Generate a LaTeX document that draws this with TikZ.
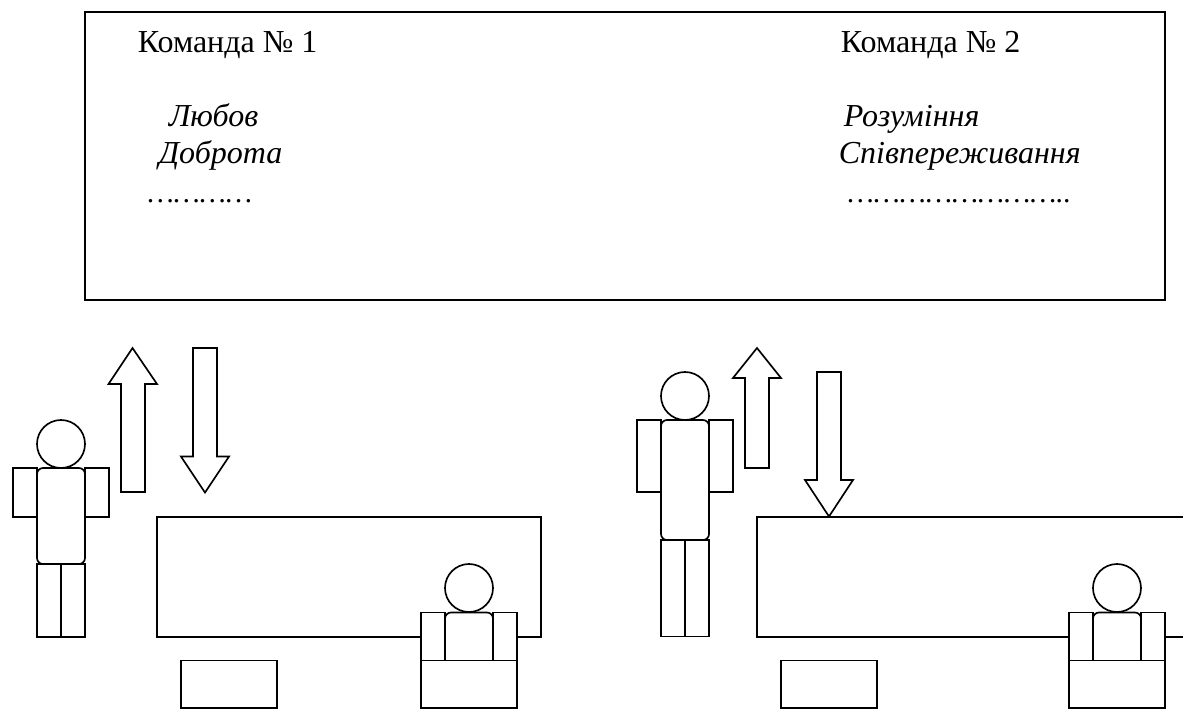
\documentclass[tikz,border=0pt]{standalone}
\usepackage{fontspec}
\setmainfont{Liberation Serif}
\begin{document}
\begin{tikzpicture}[x=0.75pt,y=-0.75pt,line width=1.25pt,line join=miter,
  txt/.style={anchor=base west,inner sep=0pt,font=\fontsize{24pt}{28pt}\selectfont},
  itxt/.style={txt,font=\fontsize{24pt}{28pt}\selectfont\itshape},
  dots/.style={txt,font=\fontsize{22pt}{26pt}\selectfont\itshape},
  part/.style={draw=black,fill=white},
  softpart/.style={part,rounded corners=4.5pt}]
\useasboundingbox (0,0) rectangle (1183,708);
\clip (0,0) rectangle (1183,708);
\fill[white] (0,0) rectangle (1183,708);
% board
\draw[line width=1.5pt] (85,12) rectangle (1165,300);
\node[txt] (t1) at (137,52) {Команда № 1};
\node[itxt] (a1) at (168,126) {Любов};
\node[itxt] (b1) at (158,163) {Доброта};
\node[dots] (d1) at (147,202) {…………};
\node[txt] (t2) at (840,52) {Команда № 2};
\node[itxt] (a2) at (843,126) {Розуміння};
\node[itxt] (b2) at (838,163) {Співпереживання};
\node[dots] (d2) at (847,202) {……………………..};
% arrows, left pair
\draw[part] (132.5,348) -- (157,384) -- (145,384) -- (145,492) -- (121,492) -- (121,384) -- (108.5,384) -- cycle;
\draw[part] (193,348) -- (217,348) -- (217,456.5) -- (229,456.5) -- (205,492.5) -- (181,456.5) -- (193,456.5) -- cycle;
% arrows, right pair
\draw[part] (757,348) -- (781,378) -- (769,378) -- (769,468) -- (745,468) -- (745,378) -- (733,378) -- cycle;
\draw[part] (817,372) -- (841,372) -- (841,480) -- (853,480) -- (829,516.5) -- (805,480) -- (817,480) -- cycle;
% tables
\draw[part] (157,517) rectangle (541,637);
\draw[part] (757,517) rectangle (1200,637);
% stools
\draw[part] (181,660.5) rectangle (277,708);
\draw[part] (781,660.5) rectangle (877,708);
% standing figure 1
\draw[part] (13,468) rectangle (37,517);
\draw[part] (85,468) rectangle (109,517);
\draw[part] (37,564) rectangle (61,637);
\draw[part] (61,564) rectangle (85,637);
\draw[softpart] (37,468) rectangle (85,564);
\draw[part] (61,444) ellipse [x radius=24,y radius=24];
% standing figure 2
\draw[part] (637,420) rectangle (661,492);
\draw[part] (709,420) rectangle (733,492);
\draw[part] (661,540) rectangle (685,636.5);
\draw[part] (685,540) rectangle (709,636.5);
\draw[softpart] (661,420) rectangle (709,540);
\draw[part] (685,396) ellipse [x radius=24,y radius=24];
% seated figure 1
\draw[part] (421,612.5) rectangle (445,660.5);
\draw[part] (493,612.5) rectangle (517,660.5);
\draw[part] (445,660.5) -- (445,618) [rounded corners=4.5pt] -- (445,612.5) -- (493,612.5) -- (493,618) [sharp corners] -- (493,660.5);
\draw[part] (421,660.5) rectangle (517,708);
\draw[part] (469,588) ellipse [x radius=24,y radius=24];
% seated figure 2
\draw[part] (1069,612.5) rectangle (1093,660.5);
\draw[part] (1141,612.5) rectangle (1165,660.5);
\draw[part] (1093,660.5) -- (1093,618) [rounded corners=4.5pt] -- (1093,612.5) -- (1141,612.5) -- (1141,618) [sharp corners] -- (1141,660.5);
\draw[part] (1069,660.5) rectangle (1165,708);
\draw[part] (1117,588) ellipse [x radius=24,y radius=24];
\end{tikzpicture}
\end{document}
